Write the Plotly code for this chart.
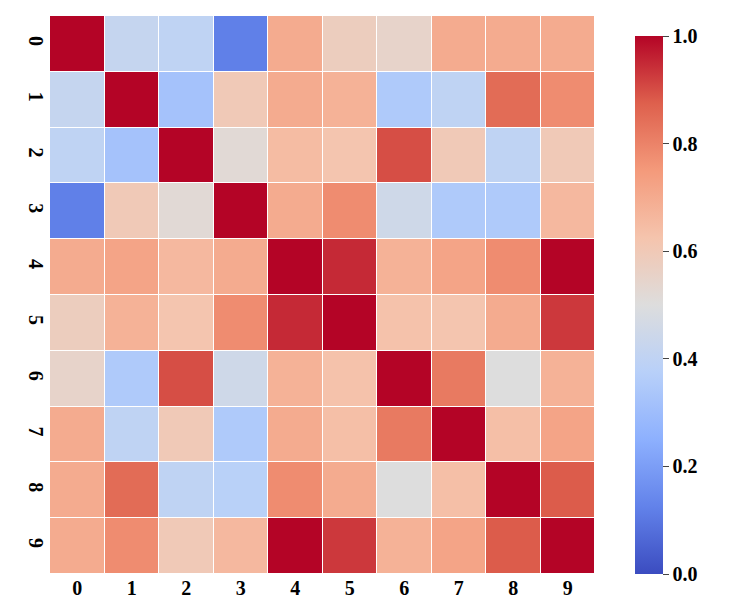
import plotly.graph_objects as go

labels = [str(i) for i in range(10)]
z = [
    [1.00, 0.42, 0.40, 0.12, 0.70, 0.58, 0.55, 0.70, 0.70, 0.70],
    [0.42, 1.00, 0.32, 0.60, 0.70, 0.68, 0.35, 0.40, 0.85, 0.78],
    [0.40, 0.32, 1.00, 0.52, 0.65, 0.62, 0.90, 0.60, 0.40, 0.60],
    [0.12, 0.60, 0.52, 1.00, 0.70, 0.78, 0.45, 0.35, 0.35, 0.66],
    [0.70, 0.72, 0.66, 0.70, 1.00, 0.95, 0.68, 0.72, 0.78, 1.00],
    [0.58, 0.68, 0.62, 0.78, 0.95, 1.00, 0.63, 0.62, 0.70, 0.93],
    [0.55, 0.35, 0.90, 0.45, 0.68, 0.63, 1.00, 0.82, 0.50, 0.68],
    [0.70, 0.40, 0.60, 0.35, 0.70, 0.64, 0.82, 1.00, 0.64, 0.72],
    [0.70, 0.85, 0.40, 0.38, 0.78, 0.70, 0.50, 0.64, 1.00, 0.88],
    [0.70, 0.78, 0.60, 0.66, 1.00, 0.93, 0.68, 0.72, 0.88, 1.00],
]

coolwarm = [
    [0.0, "rgb(59,76,192)"], [0.125, "rgb(98,130,234)"], [0.25, "rgb(141,176,254)"],
    [0.375, "rgb(184,208,249)"], [0.5, "rgb(221,221,221)"], [0.625, "rgb(245,196,173)"],
    [0.75, "rgb(244,154,123)"], [0.875, "rgb(222,96,77)"], [1.0, "rgb(180,4,38)"],
]

tf = dict(family="Liberation Serif", size=20, color="black", weight="bold")
fig = go.Figure(go.Heatmap(
    z=z, x=labels, y=labels, colorscale=coolwarm, zmin=0, zmax=1,
    xgap=1, ygap=1,
    colorbar=dict(x=1.055, xanchor="left", y=0, yanchor="bottom", len=0.964,
                  ypad=0, thickness=28, outlinewidth=0, ticks="outside", ticklen=6,
                  tickvals=[0, 0.2, 0.4, 0.6, 0.8, 1.0],
                  ticktext=["0.0", "0.2", "0.4", "0.6", "0.8", "1.0"],
                  tickfont=tf),
))
fig.update_layout(
    width=738, height=599, margin=dict(l=42, r=151, t=8, b=33),
    plot_bgcolor="white", paper_bgcolor="white", font=tf,
    xaxis=dict(showgrid=False, zeroline=False, ticks="", tickfont=tf),
    yaxis=dict(autorange="reversed", showgrid=False, zeroline=False, ticks="", tickangle=90, tickfont=tf),
)
fig.write_html("out.html")
